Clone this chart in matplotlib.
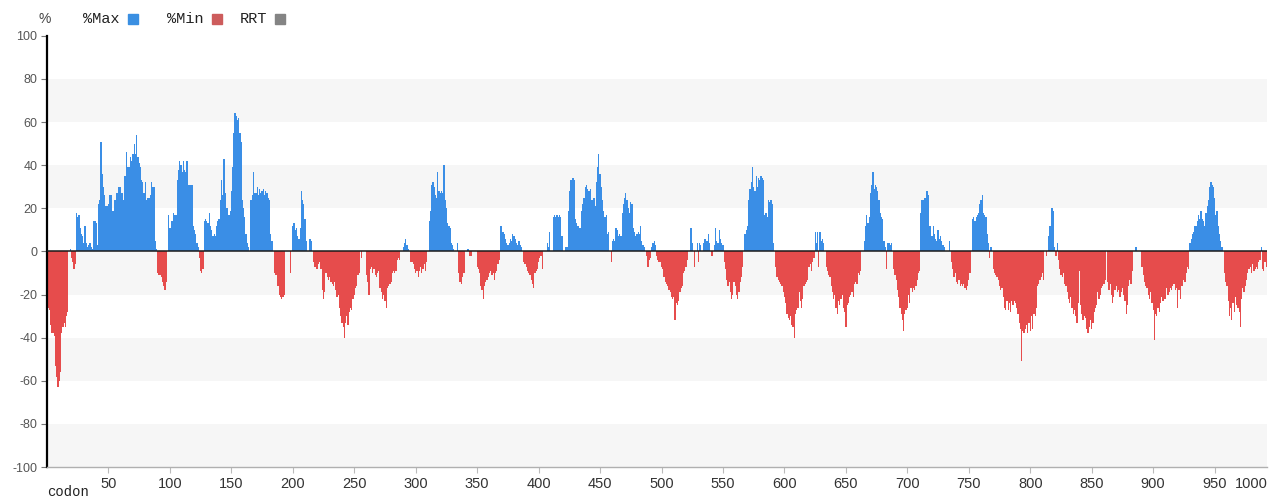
import matplotlib
matplotlib.use("Agg")
import matplotlib.pyplot as plt
import matplotlib.patches as mpatches
import numpy as np

# %MinMax value per codon (codon 1 .. 992)
minmax_001_100 = [
    -26, -27, -34, -38, -38, -39, -53, -58, -63, -60,
    -56, -38, -35, -33, -35, -30, -28, 0, 1, -3,
    -5, -8, -6, 18, 16, 17, 11, 8, 7, 4,
    12, 4, 2, 3, 4, 2, 1, 14, 14, 13,
    3, 22, 24, 51, 36, 30, 26, 21, 21, 22,
    26, 26, 19, 19, 24, 24, 27, 30, 30, 30,
    27, 24, 35, 35, 46, 39, 39, 44, 42, 45,
    50, 45, 54, 44, 41, 39, 33, 32, 27, 32,
    24, 25, 25, 26, 32, 30, 30, 5, 1, -10,
    -11, -11, -12, -14, -16, -18, -14, 0, 17, 11]
minmax_101_200 = [
    14, 14, 18, 17, 17, 33, 38, 42, 40, 37,
    42, 38, 37, 42, 31, 31, 31, 31, 12, 10,
    8, 4, 2, -3, -9, -10, -8, 14, 15, 14,
    13, 18, 12, 10, 7, 8, 7, 12, 14, 15,
    24, 33, 26, 43, 27, 20, 20, 17, 19, 28,
    39, 55, 64, 63, 61, 62, 55, 51, 24, 20,
    16, 8, 4, 2, 0, 24, 26, 37, 27, 27,
    30, 26, 29, 27, 28, 29, 26, 28, 27, 25,
    24, 8, 5, 0, -10, -11, -11, -16, -20, -21,
    -22, -21, -20, 0, 0, 0, 0, -10, 0, 12]
minmax_201_300 = [
    13, 10, 11, 7, 6, 11, 28, 24, 22, 15,
    5, 0, 0, 6, 5, 0, -5, -7, -8, -8,
    -6, -5, -8, -18, -22, -19, -10, -12, -13, -12,
    -14, -15, -16, -14, -18, -21, -20, -26, -30, -33,
    -35, -40, -33, -30, -34, -28, -26, -27, -22, -20,
    -17, -16, -11, -10, 0, -3, 0, 0, 0, -11,
    -14, -20, -8, -7, -10, -8, -11, -12, -10, -9,
    -17, -19, -22, -20, -23, -26, -17, -16, -15, -14,
    -10, -9, -10, -9, -4, -3, -4, 0, 0, 2,
    4, 6, 3, 1, 0, -5, -5, -6, -8, -10]
minmax_301_400 = [
    -9, -12, -9, -7, -10, -8, -6, -9, -5, 0,
    14, 19, 31, 32, 30, 26, 25, 37, 28, 27,
    28, 27, 40, 24, 20, 13, 12, 11, 4, 3,
    1, 0, 0, 4, -10, -14, -15, -12, -10, -10,
    0, 1, 1, -2, -2, 0, 0, 0, 0, -7,
    -8, -10, -16, -18, -22, -16, -14, -13, -12, -10,
    -9, -11, -10, -13, -10, -9, -6, -4, 12, 12,
    9, 8, 6, 4, 3, 4, 6, 5, 8, 7,
    6, 4, 3, 5, 3, 2, 0, -5, -6, -7,
    -9, -10, -11, -13, -15, -17, -10, -9, -8, -5]
minmax_401_500 = [
    -3, -2, -8, 0, 0, 0, 4, 2, 9, 0,
    0, 16, 17, 16, 17, 16, 17, 16, 7, 0,
    0, 2, 2, 19, 28, 33, 33, 34, 33, 15,
    13, 12, 11, 11, 19, 22, 25, 30, 31, 29,
    28, 29, 24, 24, 25, 21, 32, 39, 45, 36,
    30, 24, 19, 16, 17, 8, 9, 0, -5, 5,
    6, 5, 11, 10, 7, 8, 7, 18, 22, 25,
    27, 24, 20, 18, 23, 22, 11, 9, 7, 8,
    9, 8, 12, 5, 3, 2, 0, -2, -7, -4,
    -3, 2, 4, 5, 3, -2, -4, -5, -5, -7]
minmax_501_600 = [
    -8, -12, -14, -15, -16, -18, -19, -21, -22, -21,
    -32, -24, -25, -23, -19, -17, -16, -10, -9, -7,
    -4, 0, 0, 11, 4, 0, -7, 0, 4, -5,
    4, 3, 0, 4, 6, 6, 5, 8, 4, 0,
    -2, 0, 3, 11, 5, 4, 10, 6, 4, 3,
    -5, -8, -13, -16, -14, -19, -22, -20, -14, -16,
    -20, -22, -19, -14, -12, -7, 0, 8, 10, 12,
    24, 29, 32, 39, 30, 28, 35, 30, 34, 33,
    35, 34, 33, 17, 18, 16, 24, 23, 24, 22,
    4, 0, -7, -12, -13, -14, -15, -16, -19, -21]
minmax_601_700 = [
    -24, -29, -31, -32, -30, -34, -35, -40, -29, -27,
    -26, -19, -23, -26, -22, -16, -15, -14, -13, -7,
    -6, -9, -5, -3, 9, 4, 9, -7, 9, 5,
    6, 4, 0, -7, -9, -11, -12, -16, -19, -22,
    -20, -26, -29, -23, -25, -22, -20, -26, -28, -35,
    -25, -24, -21, -20, -19, -21, -15, -14, -15, -10,
    -11, -9, 0, 0, 5, 12, 17, 13, 16, 27,
    31, 37, 29, 31, 30, 28, 24, 18, 16, 15,
    5, 2, -8, 4, 4, 3, 4, 0, -8, -11,
    -13, -18, -21, -26, -29, -32, -37, -29, -27, -26]
minmax_701_800 = [
    -20, -24, -17, -19, -17, -18, -16, -13, -10, -9,
    18, 24, 24, 25, 25, 28, 26, 12, 12, 7,
    12, 8, 6, 5, 10, 6, 7, 5, 3, 2,
    0, 0, 0, 5, 0, -5, -8, -12, -10, -14,
    -15, -13, -16, -15, -16, -15, -17, -18, -16, -13,
    -10, 0, 15, 16, 14, 16, 17, 18, 22, 24,
    26, 18, 17, 16, 8, 4, -3, 2, 0, -8,
    -10, -11, -12, -13, -16, -18, -17, -21, -26, -27,
    -23, -27, -24, -28, -23, -25, -23, -24, -26, -29,
    -33, -36, -51, -37, -38, -36, -34, -38, -33, -37]
minmax_801_900 = [
    -30, -36, -29, -30, -26, -16, -15, -13, -12, -10,
    -13, 0, -2, 0, 7, 12, 20, 20, 19, 2,
    -2, 4, -4, -8, -11, -12, -10, -15, -16, -19,
    -22, -24, -21, -26, -29, -27, -30, -33, -24, -9,
    -25, -29, -32, -30, -31, -36, -38, -35, -32, -36,
    -33, -28, -26, -25, -19, -22, -20, -17, -16, -15,
    -13, 0, -14, -18, -15, -20, -24, -21, -18, -16,
    -19, -18, -21, -19, -17, -20, -23, -29, -25, -16,
    -13, -15, -9, 0, 0, 2, 0, 0, 0, 0,
    -7, -11, -14, -16, -17, -20, -22, -19, -24, -27]
minmax_901_992 = [
    -41, -29, -30, -26, -28, -24, -21, -23, -22, -22,
    -17, -20, -19, -17, -18, -16, -15, -18, -17, -26,
    -18, -22, -16, -16, -13, -14, -10, -7, -8, 4,
    6, 8, 9, 12, 12, 14, 17, 15, 19, 15,
    14, 12, 18, 21, 24, 30, 32, 31, 30, 25,
    17, 19, 12, 8, 5, 2, 0, -10, -14, -16,
    -23, -30, -26, -32, -24, -28, -21, -25, -26, -28,
    -35, -22, -17, -19, -16, -13, -10, -8, -7, -10,
    -6, -9, -8, -7, -8, -5, -4, 2, -8, -9,
    -5, -7]

x_ticks = [50, 100, 150, 200, 250, 300, 350, 400, 450, 500,
           550, 600, 650, 700, 750, 800, 850, 900, 950]
y_ticks = [-100, -80, -60, -40, -20, 0, 20, 40, 60, 80, 100]
legend_labels = ["%Max", "%Min", "RRT"]

BLUE = "#3a8ee6"
RED = "#e64c4c"
LEG_COLORS = ["#3a8fe2", "#cd5c5c", "#848484"]
MONO = ["Liberation Mono", "DejaVu Sans Mono"]
SANS = ["Liberation Sans", "DejaVu Sans"]

values = np.array(minmax_001_100 + minmax_101_200 + minmax_201_300 + minmax_301_400 +
                  minmax_401_500 + minmax_501_600 + minmax_601_700 + minmax_701_800 +
                  minmax_801_900 + minmax_901_992)
codons = np.arange(1, len(values) + 1)

fig = plt.figure(figsize=(12.7, 4.98), dpi=100)
ax = fig.add_axes([0.037, 0.062, 0.961, 0.866])

# alternating light bands
for lo in [60, 20, -20, -60, -100]:
    ax.axhspan(lo, lo + 20, color="#f6f6f6", lw=0, zorder=0)

cols = np.where(values >= 0, BLUE, RED)
ax.bar(codons, values, width=1.0, color=cols, linewidth=0, zorder=2)
ax.axhline(0, color="#1a1a1a", lw=1.1, zorder=3)

ax.set_xlim(0, 993)
ax.set_ylim(-100, 100)
ax.set_yticks(y_ticks)
ax.set_yticklabels([str(v) for v in y_ticks], fontsize=9, color="#555555", family=SANS)
ax.set_xticks(x_ticks)
ax.set_xticklabels([str(v) for v in x_ticks], fontsize=10.5, color="#333333", family=SANS)
ax.tick_params(axis="y", length=4, width=0.8, color="#777777", pad=3)
ax.tick_params(axis="x", length=4, width=0.8, color="#bbbbbb", pad=3)

for s in ["top", "right"]:
    ax.spines[s].set_visible(False)
ax.spines["left"].set_color("#000000")
ax.spines["left"].set_linewidth(1.6)
ax.spines["bottom"].set_color("#b0b0b0")
ax.spines["bottom"].set_linewidth(1.0)

# last label squeezed in at the right edge
ax.text(980, -0.024, "1000", transform=ax.get_xaxis_transform(),
        ha="center", va="top", fontsize=10.5, color="#333333", family=SANS)

fig.text(0.037, 0.012, "codon", family=MONO, fontsize=10, color="#222222",
         ha="left", va="center")
fig.text(0.0355, 0.962, "%", fontsize=10, color="#444444", ha="center", va="center",
         family=SANS)

# legend row
text_x = [0.0654, 0.1315, 0.189]
square_x = [0.1008, 0.1669, 0.2165]
for tx, sx, lab, c in zip(text_x, square_x, legend_labels, LEG_COLORS):
    fig.text(tx, 0.962, lab, family=MONO, fontsize=11, color="#222222",
             ha="left", va="center")
    fig.patches.append(mpatches.Rectangle((sx, 0.952), 0.0079, 0.02,
                                          transform=fig.transFigure, color=c))

fig.savefig("out.png", dpi=100)
